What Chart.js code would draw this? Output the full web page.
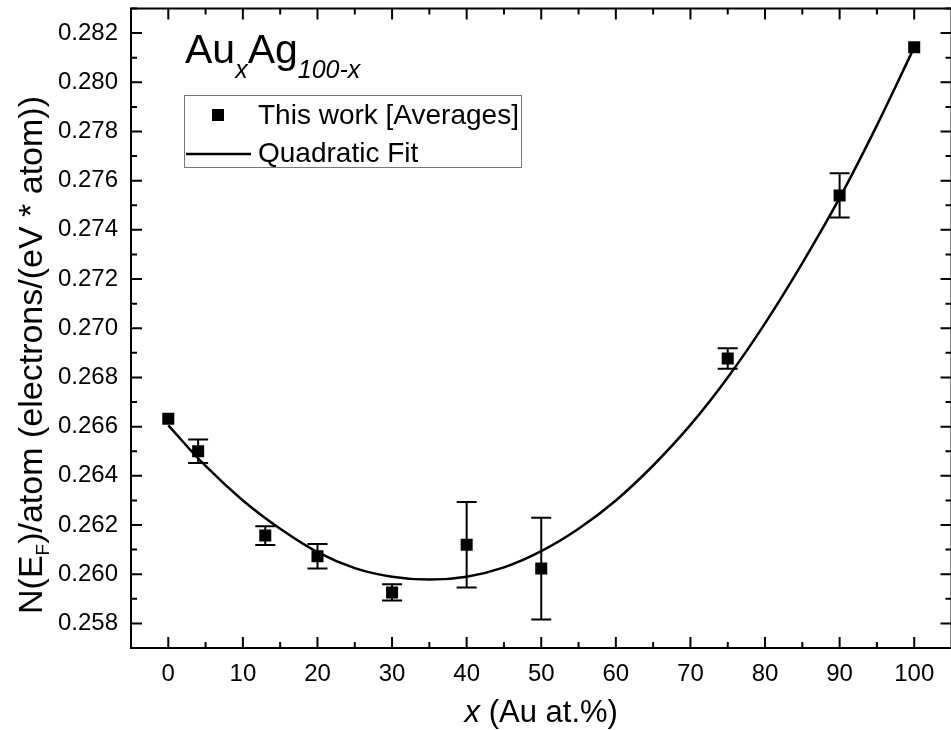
<!DOCTYPE html>
<html>
<head>
<meta charset="utf-8">
<script src="https://cdn.jsdelivr.net/npm/chart.js@4.4.1/dist/chart.umd.min.js"></script>
<style>
  html, body { margin: 0; padding: 0; overflow: hidden; background: #fff; }
  #wrap { width: 951px; height: 730px; overflow: hidden; }
  #dos { display: block; width: 960px; height: 730px; }
</style>
</head>
<body>
<div id="wrap"><canvas id="dos" width="960" height="730"></canvas></div>
<script>
// Au content of the measured alloys (at.%)
const auPct = [0, 4, 13, 20, 30, 40, 50, 75, 90, 100];
// averaged N(E_F) per atom, electrons/(eV * atom)
const dosAvg = [0.26632, 0.26500, 0.26157, 0.26073, 0.25926, 0.26120, 0.26023, 0.26877, 0.27540, 0.28142];
// half length of the error bars
const dosErr = [0, 0.00048, 0.00038, 0.00050, 0.00033, 0.00174, 0.00207, 0.00042, 0.00090, 0];
// quadratic fit curve, read every 5 at.%
const fitX = [0, 5, 10, 15, 20, 25, 30, 35, 40, 45, 50, 55, 60, 65, 70, 75, 80, 85, 90, 95, 100];
const fitY = [0.26605, 0.26440, 0.26300, 0.26185, 0.26090, 0.26025, 0.25990, 0.25978, 0.25990, 0.26028, 0.26094, 0.26185, 0.26300, 0.26442, 0.26607, 0.26800, 0.27020, 0.27265, 0.27530, 0.27825, 0.28142];

const xTicks = [0, 10, 20, 30, 40, 50, 60, 70, 80, 90, 100];
const yTicks = [0.258, 0.260, 0.262, 0.264, 0.266, 0.268, 0.270, 0.272, 0.274, 0.276, 0.278, 0.280, 0.282];

const FONT = '"Liberation Sans", Arial, sans-serif';

const pointData = auPct.map((x, i) => ({x: x, y: dosAvg[i]}));
const fitData = fitX.map((x, i) => ({x: x, y: fitY[i]}));

// vertical error bars with caps, drawn under the squares
const errorBars = {
  id: 'errorBars',
  beforeDatasetDraw(chart, args) {
    if (args.index !== 0) return;
    const {ctx, scales: {x, y}} = chart;
    ctx.save();
    ctx.strokeStyle = '#000';
    ctx.lineWidth = 2;
    auPct.forEach((v, i) => {
      if (!dosErr[i]) return;
      const px = x.getPixelForValue(v);
      const top = y.getPixelForValue(dosAvg[i] + dosErr[i]);
      const bot = y.getPixelForValue(dosAvg[i] - dosErr[i]);
      ctx.beginPath();
      ctx.moveTo(px, top); ctx.lineTo(px, bot);
      ctx.moveTo(px - 10, top); ctx.lineTo(px + 10, top);
      ctx.moveTo(px - 10, bot); ctx.lineTo(px + 10, bot);
      ctx.stroke();
    });
    ctx.restore();
  }
};

// closed frame with inward ticks on all four sides
const frame = {
  id: 'frame',
  afterDraw(chart) {
    const {ctx, chartArea: a, scales: {x, y}} = chart;
    ctx.save();
    ctx.strokeStyle = '#000';
    ctx.lineWidth = 2;
    ctx.beginPath();
    const xs = xTicks.map(v => x.getPixelForValue(v));
    const ys = yTicks.map(v => y.getPixelForValue(v));
    const xMinor = [], yMinor = [];
    for (let i = 0; i < xs.length - 1; i++) xMinor.push((xs[i] + xs[i + 1]) / 2);
    for (let i = 0; i < ys.length - 1; i++) yMinor.push((ys[i] + ys[i + 1]) / 2);
    yMinor.push(ys[0] + (ys[0] - ys[1]) / 2);
    yMinor.push(ys[ys.length - 1] - (ys[0] - ys[1]) / 2);
    xMinor.push(xs[0] - (xs[1] - xs[0]) / 2);
    xMinor.push(xs[xs.length - 1] + (xs[1] - xs[0]) / 2);
    const vTick = (px, len) => {
      ctx.moveTo(px, a.bottom); ctx.lineTo(px, a.bottom - len);
      ctx.moveTo(px, a.top); ctx.lineTo(px, a.top + len);
    };
    const hTick = (py, len) => {
      ctx.moveTo(a.left, py); ctx.lineTo(a.left + len, py);
      ctx.moveTo(a.right, py); ctx.lineTo(a.right - len, py);
    };
    xs.forEach(p => vTick(p, 11));
    xMinor.forEach(p => { if (p > a.left && p < a.right) vTick(p, 6); });
    ys.forEach(p => hTick(p, 11));
    yMinor.forEach(p => { if (p > a.top && p < a.bottom) hTick(p, 6); });
    ctx.stroke();
    ctx.strokeRect(a.left, a.top, a.right - a.left, a.bottom - a.top);
    ctx.restore();
  }
};

// formula title, legend box and axis titles with sub/italic parts
const labels = {
  id: 'labels',
  afterDraw(chart) {
    const ctx = chart.ctx;
    const a = chart.chartArea;
    ctx.save();
    ctx.fillStyle = '#000';
    ctx.textBaseline = 'alphabetic';

    // Au_x Ag_100-x
    let tx = 185;
    const put = (txt, font, dy) => {
      ctx.font = font;
      ctx.fillText(txt, tx, 63 + dy);
      tx += ctx.measureText(txt).width;
    };
    put('Au', '41px ' + FONT, 0);
    put('x', 'italic 25px ' + FONT, 15);
    put('Ag', '41px ' + FONT, 0);
    put('100-x', 'italic 25px ' + FONT, 15);

    // legend
    const lx = 184.5, ly = 95.5, lw = 337, lh = 72;
    ctx.fillStyle = '#fff';
    ctx.fillRect(lx, ly, lw, lh);
    ctx.strokeStyle = '#777';
    ctx.lineWidth = 1;
    ctx.strokeRect(lx, ly, lw, lh);
    const pts = chart.data.datasets[0];
    ctx.fillStyle = pts.backgroundColor;
    Chart.helpers.drawPoint(ctx, {pointStyle: pts.pointStyle, radius: pts.pointRadius, borderWidth: 0}, 218, 115);
    const fit = chart.data.datasets[1];
    ctx.strokeStyle = fit.borderColor;
    ctx.lineWidth = fit.borderWidth;
    ctx.beginPath();
    ctx.moveTo(186, 154); ctx.lineTo(251, 154);
    ctx.stroke();
    ctx.fillStyle = '#000';
    ctx.font = '28px ' + FONT;
    ctx.textBaseline = 'middle';
    ctx.fillText(pts.label, 258, 116);
    ctx.fillText(fit.label, 258, 154);

    // x axis title
    ctx.textBaseline = 'alphabetic';
    const xParts = [['x', 'italic 31px ' + FONT], [' (Au at.%)', '31px ' + FONT]];
    let w = 0;
    xParts.forEach(p => { ctx.font = p[1]; w += ctx.measureText(p[0]).width; });
    tx = (a.left + a.right) / 2 - w / 2;
    xParts.forEach(p => { ctx.font = p[1]; ctx.fillText(p[0], tx, 722); tx += ctx.measureText(p[0]).width; });

    // y axis title, rotated
    const yParts = [['N(E', '34px ' + FONT, 0], ['F', '19px ' + FONT, 7], [')/atom (electrons/(eV * atom))', '34px ' + FONT, 0]];
    w = 0;
    yParts.forEach(p => { ctx.font = p[1]; w += ctx.measureText(p[0]).width; });
    ctx.translate(42, 355);
    ctx.rotate(-Math.PI / 2);
    tx = -w / 2;
    yParts.forEach(p => { ctx.font = p[1]; ctx.fillText(p[0], tx, p[2]); tx += ctx.measureText(p[0]).width; });
    ctx.restore();
  }
};

const fixAxis = (size) => (scale) => {
  if (scale.isHorizontal()) scale.height = size; else scale.width = size;
  scale.paddingTop = 0; scale.paddingBottom = 0;
  scale.paddingLeft = 0; scale.paddingRight = 0;
};

new Chart(document.getElementById('dos'), {
  type: 'scatter',
  data: {
    datasets: [
      {
        label: 'This work [Averages]',
        data: pointData,
        pointStyle: 'rect',
        pointRadius: 8.5,
        pointBorderWidth: 0,
        backgroundColor: '#000',
        borderColor: '#000',
        showLine: false
      },
      {
        label: 'Quadratic Fit',
        data: fitData,
        showLine: true,
        pointRadius: 0,
        borderColor: '#000',
        borderWidth: 2.5,
        tension: 0.4,
        fill: false
      }
    ]
  },
  options: {
    responsive: false,
    devicePixelRatio: 1,
    animation: false,
    layout: {padding: {top: 7, right: 1, left: 0, bottom: 0}},
    plugins: {
      legend: {display: false},
      tooltip: {enabled: false}
    },
    scales: {
      x: {
        type: 'linear',
        min: -5,
        max: 105,
        grid: {display: false, drawTicks: false},
        border: {display: false},
        afterBuildTicks: (s) => { s.ticks = xTicks.map(v => ({value: v})); },
        afterFit: fixAxis(82),
        ticks: {
          padding: 12,
          color: '#000',
          font: {family: FONT, size: 24},
          callback: (v) => v
        }
      },
      y: {
        type: 'linear',
        min: 0.257,
        max: 0.283,
        grid: {display: false, drawTicks: false},
        border: {display: false},
        afterBuildTicks: (s) => { s.ticks = yTicks.map(v => ({value: v})); },
        afterFit: fixAxis(131),
        ticks: {
          padding: 13,
          color: '#000',
          font: {family: FONT, size: 24},
          callback: (v) => v.toFixed(3)
        }
      }
    }
  },
  plugins: [errorBars, frame, labels]
});
</script>
</body>
</html>
